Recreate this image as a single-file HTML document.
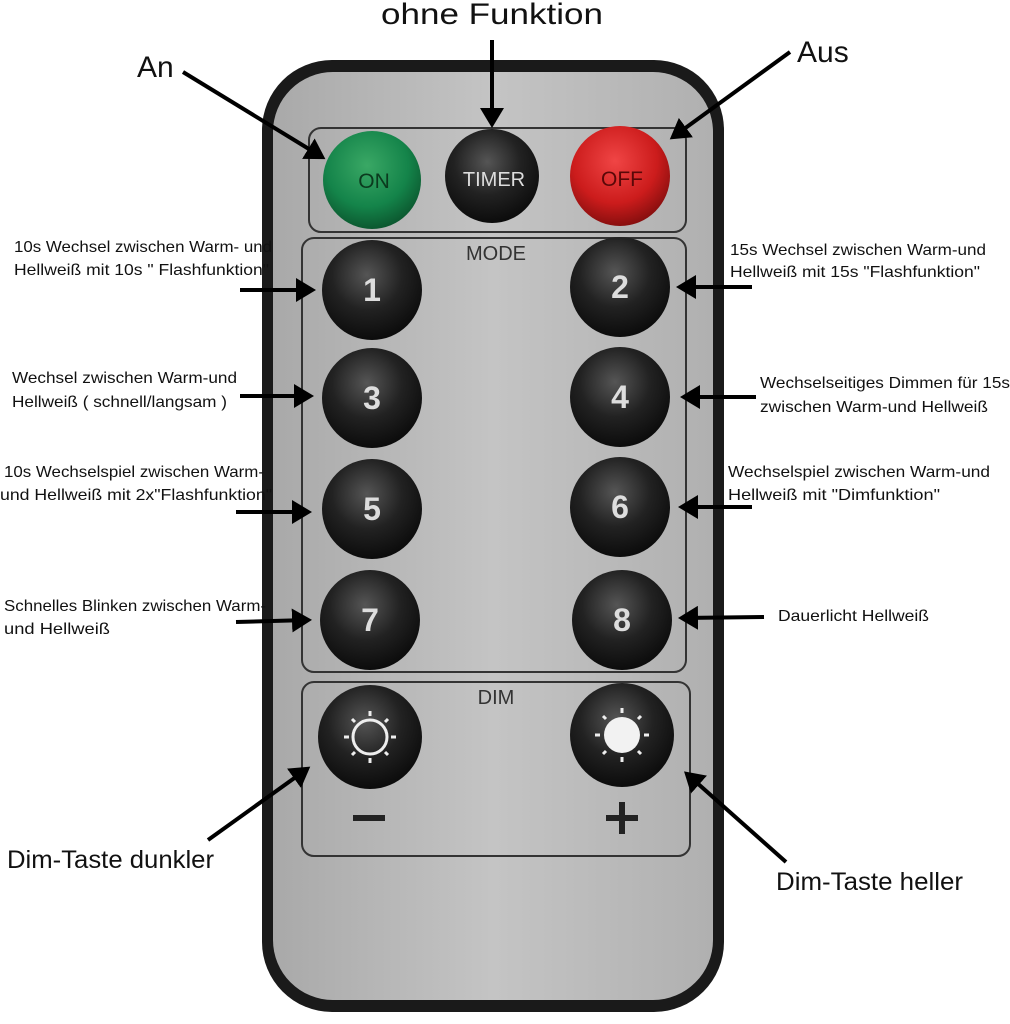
<!DOCTYPE html>
<html><head><meta charset="utf-8"><style>
html,body{margin:0;padding:0;background:#fff;width:1010px;height:1024px;overflow:hidden}
svg{display:block}
text{font-family:"Liberation Sans",sans-serif;fill:#111}
</style></head><body>
<svg width="1010" height="1024" viewBox="0 0 1010 1024">
<defs>
<radialGradient id="blk" cx="0.45" cy="0.35" r="0.7"><stop offset="0" stop-color="#555"/><stop offset="0.5" stop-color="#222"/><stop offset="1" stop-color="#080808"/></radialGradient>
<radialGradient id="grn" cx="0.45" cy="0.35" r="0.7"><stop offset="0" stop-color="#3aa865"/><stop offset="0.6" stop-color="#14844a"/><stop offset="1" stop-color="#0a4f2a"/></radialGradient>
<radialGradient id="red" cx="0.45" cy="0.35" r="0.7"><stop offset="0" stop-color="#f04545"/><stop offset="0.6" stop-color="#cc1c1c"/><stop offset="1" stop-color="#7a0c0c"/></radialGradient>
<linearGradient id="face" x1="0" y1="0" x2="1" y2="0"><stop offset="0" stop-color="#a9a9a9"/><stop offset="0.5" stop-color="#c4c4c4"/><stop offset="1" stop-color="#b0b0b0"/></linearGradient>
<marker id="ah" markerWidth="6" markerHeight="6" refX="4" refY="3" orient="auto" markerUnits="strokeWidth"><path d="M0,0 L5,3 L0,6 z" fill="#000"/></marker>
</defs>
<rect x="262" y="60" width="462" height="952" rx="70" fill="#1a1a1a"/>
<rect x="273" y="72" width="440" height="928" rx="60" fill="url(#face)"/>
<rect x="309" y="128" width="377" height="104" rx="12" fill="none" stroke="#333" stroke-width="2"/>
<rect x="302" y="238" width="384" height="434" rx="12" fill="none" stroke="#333" stroke-width="2"/>
<rect x="302" y="682" width="388" height="174" rx="12" fill="none" stroke="#333" stroke-width="2"/>
<text x="496" y="260" font-size="20" text-anchor="middle" style="fill:#333">MODE</text>
<text x="496" y="704" font-size="20" text-anchor="middle" style="fill:#333">DIM</text>
<circle cx="372" cy="180" r="49" fill="url(#grn)"/>
<text x="374" y="188" font-size="21" text-anchor="middle" style="fill:#0b3a1e">ON</text>
<circle cx="492" cy="176" r="47" fill="url(#blk)"/>
<text x="494" y="186" font-size="20" text-anchor="middle" style="fill:#ddd">TIMER</text>
<circle cx="620" cy="176" r="50" fill="url(#red)"/>
<text x="622" y="186" font-size="21" text-anchor="middle" style="fill:#5a0808">OFF</text>
<g font-size="32" font-weight="bold" text-anchor="middle">
<circle cx="372" cy="290" r="50" fill="url(#blk)"/><text x="372" y="301" style="fill:#ddd">1</text>
<circle cx="620" cy="287" r="50" fill="url(#blk)"/><text x="620" y="298" style="fill:#ddd">2</text>
<circle cx="372" cy="398" r="50" fill="url(#blk)"/><text x="372" y="409" style="fill:#ddd">3</text>
<circle cx="620" cy="397" r="50" fill="url(#blk)"/><text x="620" y="408" style="fill:#ddd">4</text>
<circle cx="372" cy="509" r="50" fill="url(#blk)"/><text x="372" y="520" style="fill:#ddd">5</text>
<circle cx="620" cy="507" r="50" fill="url(#blk)"/><text x="620" y="518" style="fill:#ddd">6</text>
<circle cx="370" cy="620" r="50" fill="url(#blk)"/><text x="370" y="631" style="fill:#ddd">7</text>
<circle cx="622" cy="620" r="50" fill="url(#blk)"/><text x="622" y="631" style="fill:#ddd">8</text>
</g>
<circle cx="370" cy="737" r="52" fill="url(#blk)"/>
<circle cx="370" cy="737" r="17" fill="none" stroke="#eee" stroke-width="3"/>
<g stroke="#eee" stroke-width="3">
<line x1="370" y1="711" x2="370" y2="716"/><line x1="370" y1="758" x2="370" y2="763"/>
<line x1="344" y1="737" x2="349" y2="737"/><line x1="391" y1="737" x2="396" y2="737"/>
<line x1="352" y1="719" x2="355" y2="722"/><line x1="385" y1="752" x2="388" y2="755"/>
<line x1="388" y1="719" x2="385" y2="722"/><line x1="355" y1="752" x2="352" y2="755"/>
</g>
<circle cx="622" cy="735" r="52" fill="url(#blk)"/>
<circle cx="622" cy="735" r="18" fill="#f2f2f2"/>
<g stroke="#eee" stroke-width="3">
<line x1="622" y1="708" x2="622" y2="713"/><line x1="622" y1="757" x2="622" y2="762"/>
<line x1="595" y1="735" x2="600" y2="735"/><line x1="644" y1="735" x2="649" y2="735"/>
<line x1="603" y1="716" x2="606" y2="719"/><line x1="638" y1="751" x2="641" y2="754"/>
<line x1="641" y1="716" x2="638" y2="719"/><line x1="606" y1="751" x2="603" y2="754"/>
</g>
<rect x="353" y="815" width="32" height="6" fill="#222"/>
<rect x="606" y="815" width="32" height="6" fill="#222"/><rect x="619" y="802" width="6" height="32" fill="#222"/>
<g stroke="#000" stroke-width="4" fill="none" marker-end="url(#ah)">
<line x1="183" y1="72" x2="322" y2="157"/>
<line x1="492" y1="40" x2="492" y2="124"/>
<line x1="790" y1="52" x2="673" y2="137"/>
<line x1="240" y1="290" x2="312" y2="290"/>
<line x1="752" y1="287" x2="680" y2="287"/>
<line x1="240" y1="396" x2="310" y2="396"/>
<line x1="756" y1="397" x2="684" y2="397"/>
<line x1="236" y1="512" x2="308" y2="512"/>
<line x1="752" y1="507" x2="682" y2="507"/>
<line x1="236" y1="622" x2="308" y2="620"/>
<line x1="764" y1="617" x2="682" y2="618"/>
<line x1="208" y1="840" x2="307" y2="769"/>
<line x1="786" y1="862" x2="687" y2="774"/>
</g>
<text x="137" y="77" font-size="30">An</text>
<text x="381" y="24" font-size="30" textLength="222" lengthAdjust="spacingAndGlyphs">ohne Funktion</text>
<text x="797" y="62" font-size="30">Aus</text>
<text x="7" y="868" font-size="25" textLength="207" lengthAdjust="spacingAndGlyphs">Dim-Taste dunkler</text>
<text x="776" y="890" font-size="25" textLength="187" lengthAdjust="spacingAndGlyphs">Dim-Taste heller</text>
<g font-size="16">
<text x="14" y="252" textLength="258" lengthAdjust="spacingAndGlyphs">10s Wechsel zwischen Warm- und</text>
<text x="14" y="275" textLength="255" lengthAdjust="spacingAndGlyphs">Hellweiß mit 10s " Flashfunktion"</text>
<text x="730" y="255" textLength="256" lengthAdjust="spacingAndGlyphs">15s Wechsel zwischen Warm-und</text>
<text x="730" y="277" textLength="250" lengthAdjust="spacingAndGlyphs">Hellweiß mit 15s "Flashfunktion"</text>
<text x="12" y="383" textLength="225" lengthAdjust="spacingAndGlyphs">Wechsel zwischen Warm-und</text>
<text x="12" y="407" textLength="215" lengthAdjust="spacingAndGlyphs">Hellweiß ( schnell/langsam )</text>
<text x="760" y="388" textLength="250" lengthAdjust="spacingAndGlyphs">Wechselseitiges Dimmen für 15s</text>
<text x="760" y="412" textLength="228" lengthAdjust="spacingAndGlyphs">zwischen Warm-und Hellweiß</text>
<text x="4" y="477" textLength="260" lengthAdjust="spacingAndGlyphs">10s Wechselspiel zwischen Warm-</text>
<text x="0" y="500" textLength="272" lengthAdjust="spacingAndGlyphs">und Hellweiß mit 2x"Flashfunktion"</text>
<text x="728" y="477" textLength="262" lengthAdjust="spacingAndGlyphs">Wechselspiel zwischen Warm-und</text>
<text x="728" y="500" textLength="212" lengthAdjust="spacingAndGlyphs">Hellweiß mit "Dimfunktion"</text>
<text x="4" y="611" textLength="262" lengthAdjust="spacingAndGlyphs">Schnelles Blinken zwischen Warm-</text>
<text x="4" y="634" textLength="106" lengthAdjust="spacingAndGlyphs">und Hellweiß</text>
<text x="778" y="621" textLength="151" lengthAdjust="spacingAndGlyphs">Dauerlicht Hellweiß</text>
</g>
</svg>
</body></html>
